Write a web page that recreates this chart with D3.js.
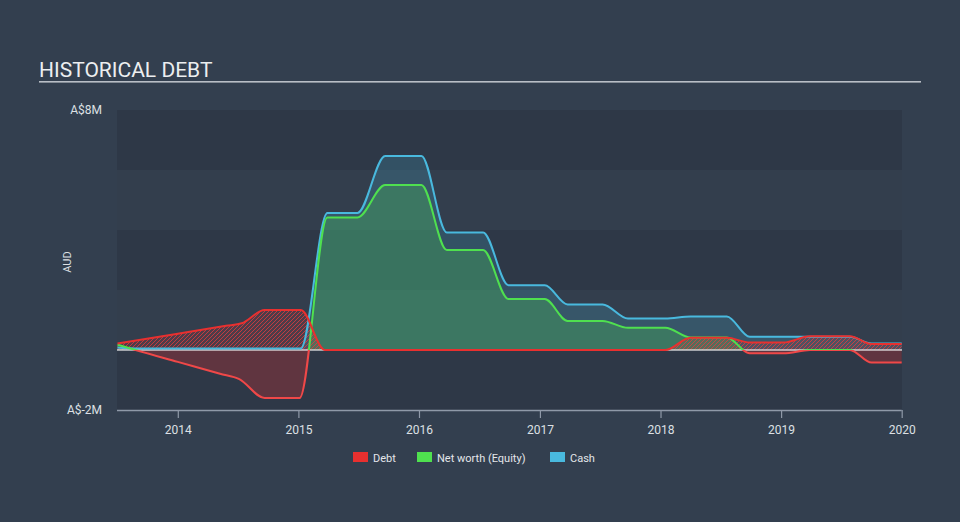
<!DOCTYPE html>
<html>
<head>
<meta charset="utf-8">
<script src="https://cdn.jsdelivr.net/npm/d3@7"></script>
<style>
  html, body { margin: 0; padding: 0; background: #333f4f; }
  svg { display: block; font-family: Roboto, "Open Sans", sans-serif; }
</style>
</head>
<body>
<svg id="chart" width="960" height="522"></svg>
<script>
// ---- data (decimal year, value in A$ millions) ----
const debtData = [
  [2013.50, 0.22], [2014.00, 0.545], [2014.40, 0.805], [2014.53, 0.89], [2014.72, 1.33],
  [2015.02, 1.33], [2015.22, 0],
  [2018.04, 0], [2018.25, 0.41], [2018.55, 0.41], [2018.74, 0.25], [2019.02, 0.25],
  [2019.24, 0.46], [2019.57, 0.46], [2019.75, 0.2], [2020.00, 0.2]
];
const equityData = [
  [2013.50, 0.18], [2013.65, 0.0], [2014.00, -0.395], [2014.35, -0.79], [2014.51, -0.97],
  [2014.72, -1.6], [2015.01, -1.6],
  [2015.24, 4.42], [2015.49, 4.42], [2015.72, 5.5], [2016.02, 5.5], [2016.23, 3.33],
  [2016.53, 3.33], [2016.74, 1.7], [2017.04, 1.7], [2017.23, 0.97], [2017.52, 0.97],
  [2017.73, 0.74], [2018.04, 0.74], [2018.25, 0.42], [2018.55, 0.42], [2018.74, -0.11],
  [2019.02, -0.11], [2019.24, 0.0], [2019.57, 0.0], [2019.75, -0.42], [2020.00, -0.42]
];
const cashData = [
  [2013.50, 0.08], [2013.65, 0.05], [2015.02, 0.05], [2015.24, 4.57], [2015.49, 4.57],
  [2015.72, 6.47], [2016.02, 6.47], [2016.23, 3.92], [2016.53, 3.92], [2016.74, 2.16],
  [2017.04, 2.16], [2017.23, 1.52], [2017.52, 1.52], [2017.73, 1.05], [2018.04, 1.05],
  [2018.25, 1.12], [2018.55, 1.12], [2018.74, 0.44], [2019.57, 0.44], [2019.75, 0.22],
  [2020.00, 0.22]
];
const xTickYears = [2014, 2015, 2016, 2017, 2018, 2019, 2020];
const yTickValues = [8, -2];
const yTickLabels = ["A$8M", "A$-2M"];
const legendItems = ["Debt", "Net worth (Equity)", "Cash"];
const colors = { debt: "#e8302f", equity: "#4fe04f", cash: "#49b9de" };

// ---- helpers ----
function toDate(y) {
  const yr = Math.floor(y);
  const start = new Date(yr, 0, 1), end = new Date(yr + 1, 0, 1);
  return new Date(start.getTime() + (y - yr) * (end - start));
}

const svg = d3.select("#chart");
const W = 960, H = 522;
const L = 117, R = 902, T = 110, B = 410;

const x = d3.scaleTime()
  .domain([new Date(2013, 6, 1), new Date(2020, 0, 1)])
  .range([L, 901.7]);
const y = d3.scaleLinear().domain([-2, 8]).range([B, T]);

// Title
svg.append("text").attr("x", 39).attr("y", 77)
  .attr("fill", "#eceef0").attr("font-size", 21).attr("font-weight", 400)
  .text("HISTORICAL DEBT");
svg.append("rect").attr("x", 39).attr("y", 81).attr("width", 882).attr("height", 1.6)
  .attr("fill", "#b9bec6");

// Plot background bands
svg.append("rect").attr("x", L).attr("y", T).attr("width", R - L).attr("height", B - T)
  .attr("fill", "rgba(0,0,0,0.04)");
const bandEdges = d3.range(-2, 8, 2);
svg.selectAll("rect.band").data(bandEdges).enter().append("rect")
  .attr("class", "band")
  .attr("x", L).attr("width", R - L)
  .attr("y", d => y(d + 2)).attr("height", d => y(d) - y(d + 2))
  .attr("fill", (d, i) => i % 2 === 0 ? "rgba(0,0,0,0.05)" : "rgba(255,255,255,0.012)");

// defs: hatch pattern + clips
const defs = svg.append("defs");
const pat = defs.append("pattern").attr("id", "hatch")
  .attr("patternUnits", "userSpaceOnUse").attr("width", 4).attr("height", 4);
pat.append("rect").attr("width", 4).attr("height", 4).attr("fill", "rgba(232,48,47,0.14)");
pat.append("path").attr("d", "M-1,1 l2,-2 M0,4 l4,-4 M3,5 l2,-2")
  .attr("stroke", "rgba(232,60,60,0.75)").attr("stroke-width", 1);
defs.append("clipPath").attr("id", "above").append("rect")
  .attr("x", L).attr("y", 0).attr("width", R - L + 2).attr("height", y(0));
defs.append("clipPath").attr("id", "below").append("rect")
  .attr("x", L).attr("y", y(0)).attr("width", R - L + 2).attr("height", H - y(0));

const curve = d3.curveMonotoneX;
const area = d3.area().x(d => x(toDate(d[0]))).y0(y(0)).y1(d => y(d[1])).curve(curve);
const line = d3.line().x(d => x(toDate(d[0]))).y(d => y(d[1])).curve(curve);

// Cash area
svg.append("path").datum(cashData).attr("d", area).attr("fill", "rgba(73,185,222,0.2)");
// Equity areas (green above zero, red below)
svg.append("path").datum(equityData).attr("d", area).attr("fill", "rgba(79,224,79,0.24)")
  .attr("clip-path", "url(#above)");
svg.append("path").datum(equityData).attr("d", area).attr("fill", "rgba(232,48,47,0.27)")
  .attr("clip-path", "url(#below)");
// Debt hatched area
svg.append("path").datum(debtData).attr("d", area).attr("fill", "url(#hatch)");

// zero line
svg.append("line").attr("x1", L).attr("x2", R).attr("y1", y(0)).attr("y2", y(0))
  .attr("stroke", "#e6e6e6").attr("stroke-width", 1.5).attr("opacity", 0.85);

// Lines
svg.append("path").datum(cashData).attr("d", line).attr("fill", "none")
  .attr("stroke", colors.cash).attr("stroke-width", 2);
svg.append("path").datum(equityData).attr("d", line).attr("fill", "none")
  .attr("stroke", colors.equity).attr("stroke-width", 2).attr("clip-path", "url(#above)");
svg.append("path").datum(equityData).attr("d", line).attr("fill", "none")
  .attr("stroke", "#f04848").attr("stroke-width", 2).attr("clip-path", "url(#below)");
svg.append("path").datum(debtData).attr("d", line).attr("fill", "none")
  .attr("stroke", colors.debt).attr("stroke-width", 2);

// Y labels
svg.selectAll("text.ylab").data(yTickValues).enter().append("text")
  .attr("class", "ylab")
  .attr("x", 102).attr("y", d => y(d)).attr("dy", "0.35em")
  .attr("text-anchor", "end").attr("fill", "#dde0e4").attr("font-size", 12)
  .text((d, i) => yTickLabels[i]);
svg.append("text").attr("transform", "translate(71,262) rotate(-90)")
  .attr("text-anchor", "middle").attr("fill", "#dde0e4").attr("font-size", 11)
  .text("AUD");

// X axis
const xAxis = d3.axisBottom(x)
  .tickValues(xTickYears.map(v => new Date(v, 0, 1)))
  .tickFormat(d3.timeFormat("%Y"))
  .tickSize(8).tickSizeOuter(0);
const gx = svg.append("g").attr("transform", `translate(0,${B})`).call(xAxis);
gx.select(".domain").attr("stroke", "#8f99a8").attr("stroke-width", 1.5)
  .attr("d", `M${L},0.5H${x(new Date(2020, 0, 1))}`);
gx.selectAll(".tick line").attr("stroke", "#8f99a8").attr("stroke-width", 1.2);
gx.selectAll(".tick text").attr("fill", "#dde0e4").attr("font-size", 12)
  .attr("font-family", "Roboto, sans-serif").attr("dy", "1.05em");

// Legend
const legendX = [353, 417, 550];
const legendColors = [colors.debt, colors.equity, colors.cash];
const lg = svg.selectAll("g.leg").data(legendItems).enter().append("g")
  .attr("class", "leg")
  .attr("transform", (d, i) => `translate(${legendX[i]},452)`);
lg.append("rect").attr("width", 15).attr("height", 10).attr("fill", (d, i) => legendColors[i]);
lg.append("text").attr("x", 20).attr("y", 9.5).attr("fill", "#e4e6ea").attr("font-size", 11)
  .text(d => d);
</script>
</body>
</html>
